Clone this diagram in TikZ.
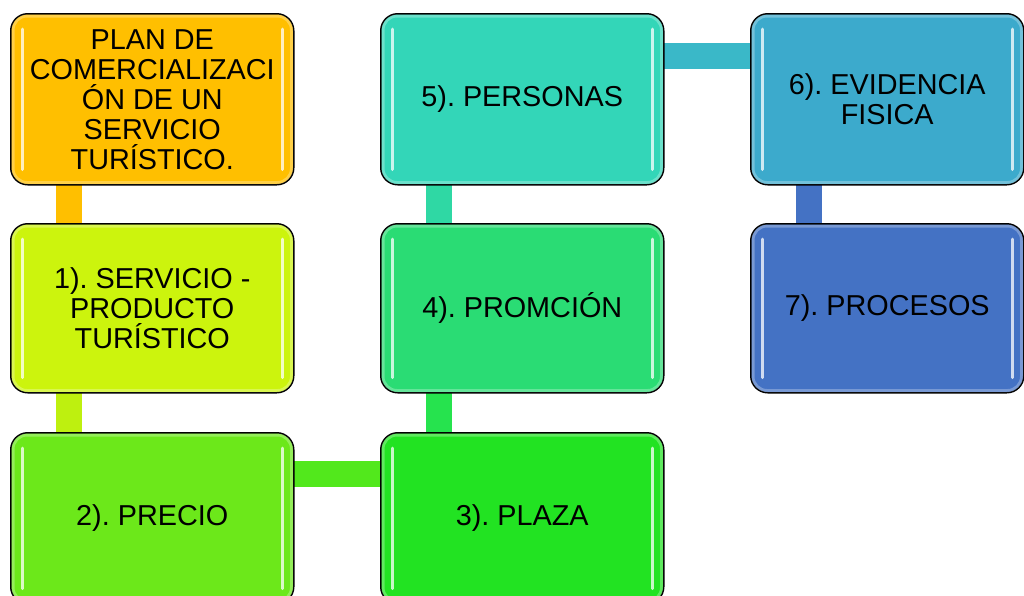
\documentclass[tikz,border=0pt]{standalone}
\usepackage{fontspec}
\setmainfont{Liberation Sans}
\usetikzlibrary{calc,backgrounds}
\frenchspacing
\definecolor{cPlan}{HTML}{FFBF00}
\definecolor{cOne}{HTML}{CCF40D}
\definecolor{cTwo}{HTML}{6CE81A}
\definecolor{cThree}{HTML}{22E322}
\definecolor{cFour}{HTML}{2ADC74}
\definecolor{cFive}{HTML}{33D6B8}
\definecolor{cSix}{HTML}{3CAACC}
\definecolor{cSeven}{HTML}{4472C4}
\definecolor{lPlan}{HTML}{FFBF00}
\definecolor{lOne}{HTML}{BEF00F}
\definecolor{lTwo}{HTML}{52E81C}
\definecolor{lThree}{HTML}{26E34E}
\definecolor{lFour}{HTML}{2FD8A4}
\definecolor{lFive}{HTML}{3AB8C8}
\definecolor{lSix}{HTML}{4472C4}
\begin{document}
\begin{tikzpicture}[x=1pt,y=-1pt,
  box/.style={draw=black, line width=1.5pt, rounded corners=17pt,
    minimum width=283pt, minimum height=171pt, anchor=north west,
    align=center, inner sep=0pt, font=\fontsize{28.8}{30}\selectfont\frenchspacing},
  narrowbox/.style={box, minimum width=273pt},
  link/.style={line width=26pt},
  hl/.style={line width=3pt, line cap=round, white, opacity=0.75},
  rim/.style={white, opacity=0.28, line width=3pt, rounded corners=14pt}]
\useasboundingbox (0,0) rectangle (1024,595);

\node[box, fill=cPlan] (plan) at (10,13) {PLAN DE\\COMERCIALIZACI\\ÓN DE UN\\SERVICIO\\TURÍSTICO.};
\node[box, fill=cOne, minimum height=169pt] (s1) at (10,223) {1). SERVICIO -\\PRODUCTO\\TURÍSTICO};
\node[box, fill=cTwo] (s2) at (10,432) {2). PRECIO};
\node[box, fill=cThree] (s3) at (380,432) {3). PLAZA};
\node[box, fill=cFour, minimum height=169pt] (s4) at (380,223) {4). PROMCIÓN};
\node[box, fill=cFive] (s5) at (380,13) {5). PERSONAS};
\node[narrowbox, fill=cSix] (s6) at (750,13) {6). EVIDENCIA\\FISICA};
\node[narrowbox, fill=cSeven, minimum height=169pt] (s7) at (750,223) {7). PROCESOS};

\begin{scope}[on background layer]
  \draw[link, lPlan] ($(plan.south west)+(58.5,-4)$) -- ($(s1.north west)+(58.5,4)$);
  \draw[link, lOne] ($(s1.south west)+(58.5,-4)$) -- ($(s2.north west)+(58.5,4)$);
  \draw[link, lTwo] ($(s2.north east)+(-4,41.5)$) -- ($(s3.north west)+(4,41.5)$);
  \draw[link, lThree] ($(s3.north west)+(59,4)$) -- ($(s4.south west)+(59,-4)$);
  \draw[link, lFour] ($(s4.north west)+(59,4)$) -- ($(s5.south west)+(59,-4)$);
  \draw[link, lFive] ($(s5.north east)+(-4,42.5)$) -- ($(s6.north west)+(4,42.5)$);
  \draw[link, lSix] ($(s6.south west)+(59,-4)$) -- ($(s7.north west)+(59,4)$);
\end{scope}

\foreach \n in {plan,s1,s2,s3,s4,s5,s6,s7}{
  \draw[rim] ($(\n.north west)+(3,3)$) rectangle ($(\n.south east)+(-3,-3)$);
  \draw[hl] ($(\n.north west)+(12,16)$) -- ($(\n.south west)+(12,-16)$);
  \draw[hl] ($(\n.north east)+(-12,16)$) -- ($(\n.south east)+(-12,-16)$);
}
\end{tikzpicture}
\end{document}
